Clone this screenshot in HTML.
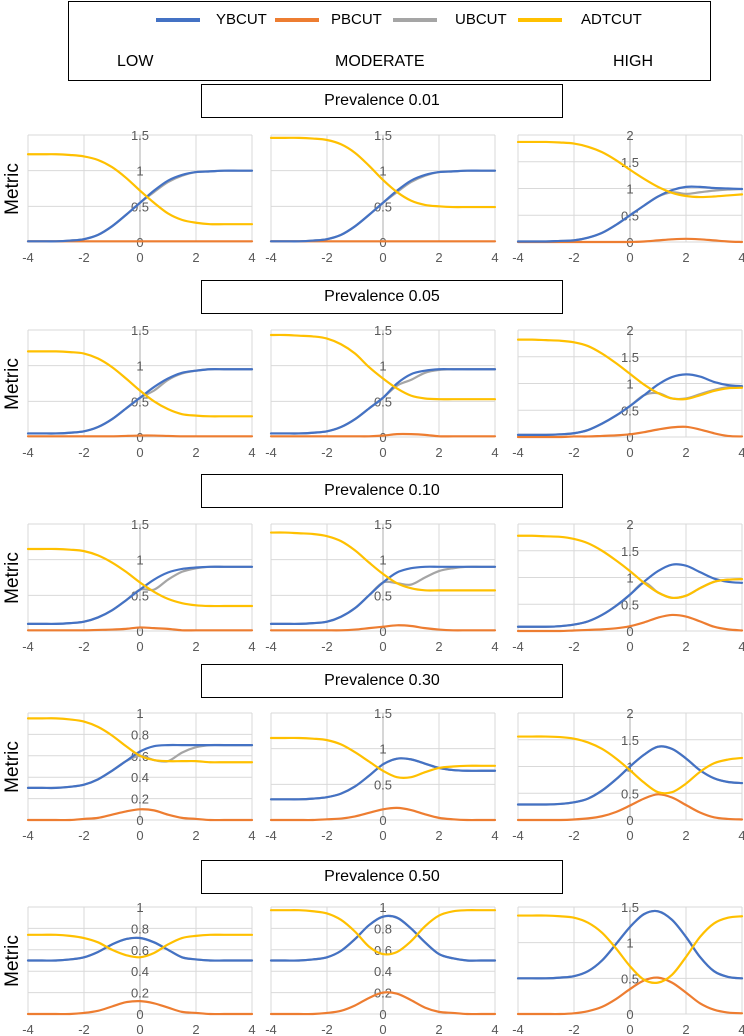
<!DOCTYPE html>
<html><head><meta charset="utf-8">
<style>
html,body{margin:0;padding:0;background:#fff;}
body{width:744px;height:1036px;position:relative;overflow:hidden;font-family:"Liberation Sans",sans-serif;}
.box{position:absolute;border:1.5px solid #000;box-sizing:border-box;background:#fff;}
.t{position:absolute;font-size:16px;color:#000;white-space:nowrap;}
.lg{position:absolute;height:4px;top:16px;width:44px;}
.ll{position:absolute;top:9px;font-size:15px;}
.ptitle{position:absolute;left:201px;width:362px;height:34px;border:1.5px solid #000;box-sizing:border-box;text-align:center;line-height:31px;font-size:16px;}
.metric{position:absolute;font-size:19px;transform:rotate(-90deg);transform-origin:center;width:70px;text-align:center;}
</style></head>
<body>
<div class="box" style="left:68px;top:1px;width:643px;height:80px;">
  <div class="lg" style="left:87px;background:#4472C4"></div>
  <div class="ll" style="left:147px">YBCUT</div>
  <div class="lg" style="left:206px;background:#ED7D31"></div>
  <div class="ll" style="left:262px">PBCUT</div>
  <div class="lg" style="left:324px;background:#A5A5A5"></div>
  <div class="ll" style="left:386px">UBCUT</div>
  <div class="lg" style="left:449px;background:#FFC000"></div>
  <div class="ll" style="left:512px">ADTCUT</div>
  <div class="t" style="left:48px;top:51px">LOW</div>
  <div class="t" style="left:266px;top:51px">MODERATE</div>
  <div class="t" style="left:544px;top:51px">HIGH</div>
</div>
<div id="titles"></div>
<svg id="charts" width="744" height="1036" style="position:absolute;left:0;top:0"></svg>
<script>
const xs=[-4,-3.5,-3,-2.5,-2,-1.5,-1,-0.5,0,0.5,1,1.5,2,2.5,3,3.5,4];
const prevalences=["0.01","0.05","0.10","0.30","0.50"];
const yMaxes=[[1.5,1.5,2],[1.5,1.5,2],[1.5,1.5,2],[1,1.5,2],[1,1,1.5]];
const yStepsArr=[[0.5,0.5,0.5],[0.5,0.5,0.5],[0.5,0.5,0.5],[0.2,0.5,0.5],[0.2,0.2,0.5]];
const xTicks=[-4,-2,0,2,4];
// row1
const Y11=[0.01,0.01,0.01,0.02,0.04,0.1,0.22,0.38,0.55,0.72,0.86,0.94,0.98,0.99,1,1,1];
const P11=[0.01,0.01,0.01,0.01,0.01,0.01,0.01,0.01,0.01,0.01,0.01,0.01,0.01,0.01,0.01,0.01,0.01];
const U11=[0.01,0.01,0.01,0.02,0.04,0.1,0.22,0.38,0.55,0.7,0.84,0.93,0.98,0.99,1,1,1];
const A11=[1.23,1.23,1.23,1.22,1.2,1.15,1.05,0.9,0.72,0.55,0.4,0.31,0.27,0.25,0.25,0.25,0.25];
const Y12=[0.01,0.01,0.01,0.02,0.04,0.1,0.22,0.38,0.55,0.72,0.86,0.94,0.98,0.99,1,1,1];
const P12=[0.01,0.01,0.01,0.01,0.01,0.01,0.01,0.01,0.01,0.01,0.01,0.01,0.01,0.01,0.01,0.01,0.01];
const U12=[0.01,0.01,0.01,0.02,0.04,0.1,0.22,0.38,0.55,0.7,0.84,0.93,0.98,0.99,1,1,1];
const A12=[1.46,1.46,1.46,1.45,1.43,1.37,1.25,1.07,0.87,0.7,0.58,0.52,0.5,0.49,0.49,0.49,0.49];
const Y13=[0.01,0.01,0.01,0.02,0.03,0.08,0.17,0.32,0.5,0.68,0.85,0.97,1.03,1.03,1.01,1.0,0.99];
const P13=[0,0,0,0,0,0,0,0,0,0.01,0.03,0.05,0.06,0.05,0.03,0.01,0];
const U13=[0.01,0.01,0.01,0.02,0.03,0.08,0.17,0.32,0.5,0.68,0.85,0.93,0.9,0.93,0.96,0.98,0.99];
const A13=[1.87,1.87,1.87,1.86,1.84,1.78,1.68,1.53,1.35,1.18,1.03,0.92,0.86,0.84,0.85,0.87,0.89];
// row2
const Y21=[0.05,0.05,0.05,0.06,0.08,0.14,0.25,0.4,0.55,0.7,0.82,0.9,0.93,0.95,0.95,0.95,0.95];
const P21=[0.01,0.01,0.01,0.01,0.01,0.01,0.01,0.015,0.02,0.02,0.015,0.01,0.01,0.01,0.01,0.01,0.01];
const U21=[0.05,0.05,0.05,0.06,0.08,0.14,0.25,0.4,0.55,0.65,0.8,0.89,0.93,0.95,0.95,0.95,0.95];
const A21=[1.2,1.2,1.2,1.19,1.17,1.1,0.98,0.82,0.65,0.5,0.39,0.32,0.3,0.29,0.29,0.29,0.29];
const Y22=[0.05,0.05,0.05,0.06,0.08,0.14,0.25,0.4,0.55,0.75,0.88,0.93,0.95,0.95,0.95,0.95,0.95];
const P22=[0.01,0.01,0.01,0.01,0.01,0.01,0.01,0.01,0.02,0.04,0.04,0.03,0.01,0.01,0.01,0.01,0.01];
const U22=[0.05,0.05,0.05,0.06,0.08,0.14,0.25,0.4,0.55,0.72,0.8,0.9,0.94,0.95,0.95,0.95,0.95];
const A22=[1.43,1.43,1.42,1.41,1.38,1.3,1.17,0.98,0.82,0.68,0.58,0.54,0.53,0.53,0.53,0.53,0.53];
const Y23=[0.04,0.04,0.04,0.05,0.07,0.13,0.25,0.4,0.58,0.78,0.98,1.12,1.17,1.13,1.03,0.97,0.95];
const P23=[0,0,0,0,0.01,0.01,0.02,0.03,0.05,0.09,0.14,0.18,0.19,0.14,0.07,0.02,0.01];
const U23=[0.04,0.04,0.04,0.05,0.07,0.13,0.25,0.4,0.58,0.78,0.82,0.72,0.72,0.8,0.88,0.93,0.94];
const A23=[1.82,1.82,1.81,1.8,1.77,1.7,1.56,1.38,1.18,0.98,0.82,0.72,0.71,0.78,0.86,0.91,0.92];
// row3
const Y31=[0.1,0.1,0.1,0.11,0.13,0.19,0.29,0.43,0.58,0.72,0.82,0.87,0.89,0.9,0.9,0.9,0.9];
const P31=[0.01,0.01,0.01,0.01,0.01,0.015,0.02,0.03,0.05,0.04,0.03,0.01,0.01,0.01,0.01,0.01,0.01];
const U31=[0.1,0.1,0.1,0.11,0.13,0.19,0.29,0.43,0.58,0.58,0.72,0.83,0.88,0.9,0.9,0.9,0.9];
const A31=[1.15,1.15,1.15,1.14,1.12,1.06,0.96,0.83,0.68,0.55,0.45,0.39,0.36,0.35,0.35,0.35,0.35];
const Y32=[0.1,0.1,0.1,0.11,0.13,0.2,0.32,0.5,0.68,0.82,0.88,0.9,0.9,0.9,0.9,0.9,0.9];
const P32=[0.01,0.01,0.01,0.01,0.01,0.01,0.02,0.04,0.06,0.08,0.07,0.04,0.02,0.01,0.01,0.01,0.01];
const U32=[0.1,0.1,0.1,0.11,0.13,0.2,0.32,0.5,0.68,0.67,0.65,0.75,0.84,0.88,0.9,0.9,0.9];
const A32=[1.38,1.38,1.37,1.36,1.33,1.26,1.13,0.96,0.8,0.67,0.6,0.57,0.57,0.57,0.57,0.57,0.57];
const Y33=[0.08,0.08,0.08,0.09,0.12,0.18,0.3,0.47,0.68,0.92,1.12,1.24,1.22,1.1,0.98,0.92,0.9];
const P33=[0,0,0,0,0.01,0.02,0.03,0.05,0.09,0.16,0.25,0.3,0.27,0.18,0.08,0.03,0.01];
const U33=[0.08,0.08,0.08,0.09,0.12,0.18,0.3,0.47,0.68,0.9,0.72,0.62,0.66,0.8,0.92,0.96,0.97];
const A33=[1.78,1.78,1.77,1.76,1.72,1.64,1.5,1.32,1.12,0.9,0.72,0.62,0.66,0.8,0.92,0.96,0.97];
// row4
const Y41=[0.3,0.3,0.3,0.31,0.33,0.38,0.46,0.55,0.64,0.69,0.7,0.7,0.7,0.7,0.7,0.7,0.7];
const P41=[0,0,0,0,0.01,0.02,0.05,0.08,0.1,0.09,0.05,0.02,0.01,0,0,0,0];
const U41=[0.3,0.3,0.3,0.31,0.33,0.38,0.46,0.55,0.6,0.56,0.55,0.63,0.68,0.7,0.7,0.7,0.7];
const A41=[0.95,0.95,0.95,0.94,0.92,0.87,0.79,0.69,0.6,0.56,0.55,0.55,0.55,0.54,0.54,0.54,0.54];
const Y42=[0.29,0.29,0.29,0.3,0.32,0.37,0.47,0.62,0.78,0.86,0.85,0.79,0.73,0.7,0.69,0.69,0.69];
const P42=[0,0,0,0,0.01,0.02,0.05,0.1,0.15,0.17,0.14,0.08,0.03,0.01,0,0,0];
const U42=[0.29,0.29,0.29,0.3,0.32,0.37,0.47,0.62,0.78,0.86,0.85,0.79,0.73,0.7,0.69,0.69,0.69];
const A42=[1.15,1.15,1.15,1.14,1.12,1.06,0.95,0.82,0.69,0.6,0.6,0.67,0.73,0.75,0.76,0.76,0.76];
const Y43=[0.29,0.29,0.29,0.3,0.33,0.4,0.55,0.76,1.0,1.22,1.37,1.33,1.15,0.93,0.78,0.71,0.69];
const P43=[0,0,0,0,0.01,0.03,0.07,0.15,0.27,0.4,0.48,0.42,0.28,0.14,0.05,0.02,0.01];
const U43=[0.29,0.29,0.29,0.3,0.33,0.4,0.55,0.76,1.0,1.22,1.37,1.33,1.15,0.93,0.78,0.71,0.69];
const A43=[1.56,1.56,1.56,1.55,1.52,1.45,1.33,1.15,0.93,0.7,0.52,0.52,0.68,0.9,1.06,1.13,1.16];
// row5
const Y51=[0.5,0.5,0.5,0.51,0.53,0.58,0.65,0.7,0.71,0.67,0.6,0.53,0.51,0.5,0.5,0.5,0.5];
const P51=[0,0,0,0,0.01,0.03,0.07,0.11,0.12,0.1,0.06,0.02,0.01,0,0,0,0];
const U51=[0.5,0.5,0.5,0.51,0.53,0.58,0.65,0.7,0.71,0.67,0.6,0.53,0.51,0.5,0.5,0.5,0.5];
const A51=[0.74,0.74,0.74,0.73,0.71,0.67,0.6,0.55,0.53,0.57,0.65,0.71,0.73,0.74,0.74,0.74,0.74];
const Y52=[0.5,0.5,0.5,0.51,0.53,0.59,0.7,0.83,0.91,0.9,0.8,0.67,0.56,0.52,0.5,0.5,0.5];
const P52=[0,0,0,0,0.01,0.03,0.08,0.15,0.2,0.19,0.13,0.06,0.02,0.01,0,0,0];
const U52=[0.5,0.5,0.5,0.51,0.53,0.59,0.7,0.83,0.91,0.9,0.8,0.67,0.56,0.52,0.5,0.5,0.5];
const A52=[0.97,0.97,0.97,0.96,0.94,0.88,0.77,0.63,0.56,0.58,0.68,0.82,0.92,0.96,0.97,0.97,0.97];
const Y53=[0.5,0.5,0.5,0.51,0.53,0.6,0.75,0.98,1.22,1.4,1.44,1.32,1.08,0.8,0.6,0.52,0.5];
const P53=[0,0,0,0,0.01,0.04,0.1,0.21,0.35,0.47,0.51,0.44,0.3,0.15,0.06,0.02,0.01];
const U53=[0.5,0.5,0.5,0.51,0.53,0.6,0.75,0.98,1.22,1.4,1.44,1.32,1.08,0.8,0.6,0.52,0.5];
const A53=[1.38,1.38,1.38,1.37,1.35,1.28,1.14,0.92,0.67,0.48,0.44,0.55,0.8,1.08,1.27,1.35,1.37];

const panels=[[[Y11,P11,U11,A11],[Y12,P12,U12,A12],[Y13,P13,U13,A13]],
[[Y21,P21,U21,A21],[Y22,P22,U22,A22],[Y23,P23,U23,A23]],
[[Y31,P31,U31,A31],[Y32,P32,U32,A32],[Y33,P33,U33,A33]],
[[Y41,P41,U41,A41],[Y42,P42,U42,A42],[Y43,P43,U43,A43]],
[[Y51,P51,U51,A51],[Y52,P52,U52,A52],[Y53,P53,U53,A53]]];
const seriesNames=["ybcut","pbcut","ubcut","adtcut"];
const colors=["#4472C4","#ED7D31","#A5A5A5","#FFC000"];
const drawOrder=[2,1,0,3];
const rowTops=[135,330,524,713,907];
const titleTops=[84,280,474,664,860];
const colLefts=[28,271,518];
const PW=224,PH=107;
const NS="http://www.w3.org/2000/svg";
const svg=document.getElementById('charts');
const titles=document.getElementById('titles');
function mk(tag,attrs,parent){const e=document.createElementNS(NS,tag);for(const k in attrs)e.setAttribute(k,attrs[k]);parent.appendChild(e);return e;}
function fmt(v){return (Math.round(v*10)/10).toString();}
function pathFor(pts){let d="M"+pts[0][0].toFixed(2)+","+pts[0][1].toFixed(2);
 for(let i=0;i<pts.length-1;i++){const p0=pts[Math.max(0,i-1)],p1=pts[i],p2=pts[i+1],p3=pts[Math.min(pts.length-1,i+2)];
  const c1x=p1[0]+(p2[0]-p0[0])/6,c1y=p1[1]+(p2[1]-p0[1])/6,c2x=p2[0]-(p3[0]-p1[0])/6,c2y=p2[1]-(p3[1]-p1[1])/6;
  d+=" C"+c1x.toFixed(2)+","+c1y.toFixed(2)+" "+c2x.toFixed(2)+","+c2y.toFixed(2)+" "+p2[0].toFixed(2)+","+p2[1].toFixed(2);}
 return d;}
prevalences.forEach((pv,r)=>{
 const tb=document.createElement('div');tb.className='ptitle';tb.style.top=titleTops[r]+'px';tb.textContent='Prevalence '+pv;
 
 
 titles.appendChild(tb);
 const m=document.createElement('div');m.className='metric';m.textContent='Metric';m.style.left='-22px';m.style.top=(rowTops[r]+PH/2-11)+'px';
 
 
 titles.appendChild(m);
 for(let c=0;c<3;c++){
  const L=colLefts[c],T=rowTops[r],ymax=yMaxes[r][c],step=yStepsArr[r][c];
  const g=mk('g',{},svg);
  
  
  const sx=x=>L+(x+4)/8*PW, sy=y=>T+PH-y/ymax*PH;
  const n=Math.round(ymax/step);
  for(let i=0;i<=n;i++){const v=i*step;const ln=mk('line',{x1:L,x2:L+PW,y1:sy(v),y2:sy(v),stroke:'#d9d9d9','stroke-width':1},g);
   
   }
  xTicks.forEach(t=>{const ln=mk('line',{x1:sx(t),x2:sx(t),y1:T,y2:T+PH,stroke:t===0?'#bfbfbf':'#d9d9d9','stroke-width':t===0?1.3:1},g);
   
   
   const tx=mk('text',{x:sx(t),y:T+PH+20,'text-anchor':'middle','font-size':13,fill:'#595959','font-family':'Liberation Sans, sans-serif'},g);tx.textContent=String(t);
   
   });
  for(let i=0;i<=n;i++){const v=i*step;const tx=mk('text',{x:sx(0),y:sy(v)+5,'text-anchor':'middle','font-size':13,fill:'#595959','font-family':'Liberation Sans, sans-serif'},g);tx.textContent=fmt(v);
   
   }
  drawOrder.forEach(s=>{const vals=panels[r][c][s];const pts=xs.map((x,i)=>[sx(x),sy(vals[i])]);
   const p=mk('path',{d:pathFor(pts),fill:'none',stroke:colors[s],'stroke-width':2.2,'stroke-linecap':'round'},g);
   
   });
 }
});
</script>
</body></html>
